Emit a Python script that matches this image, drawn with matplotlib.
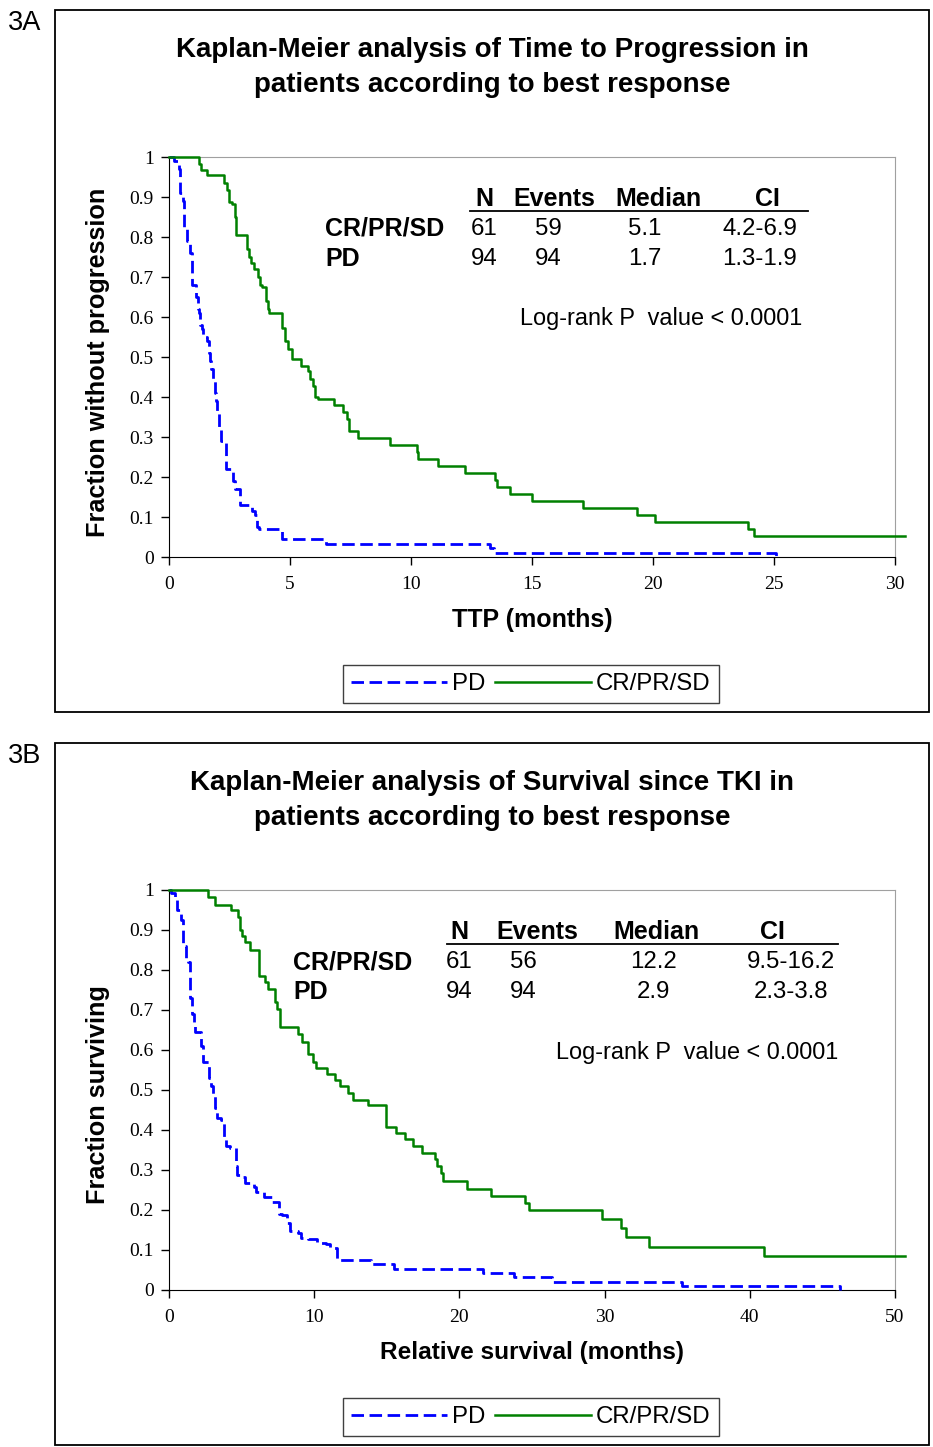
import matplotlib
matplotlib.use('Agg')
import matplotlib.pyplot as plt
from matplotlib.patches import Rectangle
from matplotlib.lines import Line2D
from matplotlib.ticker import FuncFormatter

W, H = 933, 1447

# ---- data ----
# 3A: time to progression
ttp_pd_t = [0, 0.2, 0.41, 0.45, 0.58, 0.62, 0.75, 0.85, 0.95, 1.1, 1.2, 1.25, 1.3, 1.35, 1.41,
            1.55, 1.65, 1.7, 1.75, 1.82, 1.9, 1.95, 1.99, 2.06, 2.13, 2.37, 2.65, 2.74, 2.95,
            3.43, 3.57, 3.63, 3.7, 4.66, 6.5, 13.27, 13.45, 25.1]
ttp_pd_s = [1.0, 0.99, 0.97, 0.91, 0.89, 0.82, 0.79, 0.76, 0.68, 0.65, 0.62, 0.61, 0.58, 0.57, 0.55,
            0.54, 0.51, 0.49, 0.47, 0.445, 0.41, 0.39, 0.36, 0.32, 0.29, 0.22, 0.19, 0.17, 0.13,
            0.115, 0.105, 0.075, 0.07, 0.046, 0.033, 0.022, 0.011, 0.0]
ttp_cr_t = [0, 1.26, 1.34, 1.58, 2.26, 2.4, 2.47, 2.6, 2.72, 2.77, 3.22, 3.32, 3.4, 3.5, 3.68,
            3.77, 3.85, 4.0, 4.08, 4.14, 4.69, 4.8, 4.9, 5.07, 5.46, 5.73, 5.83, 5.97, 6.04, 6.17,
            6.83, 7.19, 7.35, 7.42, 7.79, 9.14, 10.23, 10.3, 11.13, 12.25, 13.47, 13.54, 14.08,
            15.0, 17.1, 19.35, 20.1, 23.93, 24.16, 30.4]
ttp_cr_s = [1.0, 0.983, 0.967, 0.954, 0.934, 0.917, 0.888, 0.883, 0.85, 0.805, 0.77, 0.75, 0.735,
            0.72, 0.70, 0.68, 0.675, 0.64, 0.62, 0.61, 0.573, 0.54, 0.52, 0.494, 0.477, 0.465,
            0.444, 0.427, 0.40, 0.394, 0.379, 0.3625, 0.346, 0.314, 0.2975, 0.279, 0.2625, 0.246,
            0.228, 0.21, 0.192, 0.175, 0.157, 0.14, 0.1225, 0.105, 0.0875, 0.071, 0.0525, 0.0525]

# 3B: survival since TKI
os_pd_t = [0, 0.12, 0.42, 0.58, 0.86, 0.93, 1.16, 1.3, 1.44, 1.57, 1.71, 1.8, 2.2, 2.31, 2.73,
           2.9, 3.0, 3.17, 3.29, 3.6, 3.8, 3.94, 4.2, 4.58, 4.7, 5.05, 5.21, 5.86, 6.0, 6.53,
           7.1, 7.6, 7.8, 8.1, 8.3, 8.9, 9.1, 9.6, 10.2, 10.8, 11.1, 11.55, 13.9, 15.5, 21.6,
           23.75, 26.4, 35.3, 46.2]
os_pd_s = [1.0, 0.992, 0.975, 0.95, 0.925, 0.86, 0.83, 0.82, 0.73, 0.69, 0.66, 0.645, 0.61, 0.57,
           0.53, 0.51, 0.49, 0.455, 0.43, 0.425, 0.38, 0.36, 0.355, 0.31, 0.288, 0.283, 0.267,
           0.258, 0.244, 0.232, 0.22, 0.19, 0.188, 0.167, 0.148, 0.142, 0.13, 0.127, 0.118,
           0.115, 0.105, 0.076, 0.066, 0.053, 0.043, 0.032, 0.021, 0.011, 0.0]
os_cr_t = [0, 2.66, 3.19, 4.24, 4.75, 4.86, 5.05, 5.2, 5.55, 6.2, 6.6, 6.83, 7.3, 7.45, 7.64,
           8.9, 9.14, 9.6, 9.9, 10.14, 10.88, 11.4, 11.8, 12.3, 12.7, 13.7, 14.94, 15.6, 16.25,
           16.8, 17.45, 18.3, 18.45, 18.7, 18.85, 20.5, 22.2, 24.55, 24.8, 29.8, 31.14, 31.5,
           33.07, 40.95, 50.7]
os_cr_s = [1.0, 0.982, 0.963, 0.95, 0.933, 0.9, 0.886, 0.87, 0.85, 0.786, 0.77, 0.753, 0.72,
           0.703, 0.657, 0.64, 0.62, 0.59, 0.57, 0.554, 0.539, 0.525, 0.51, 0.493, 0.475, 0.462,
           0.408, 0.392, 0.378, 0.36, 0.343, 0.327, 0.31, 0.293, 0.273, 0.252, 0.235, 0.218, 0.2,
           0.178, 0.156, 0.133, 0.108, 0.086, 0.086]

table_cols = ['N', 'Events', 'Median', 'CI']
ttp_rows = {'CR/PR/SD': ['61', '59', '5.1', '4.2-6.9'], 'PD': ['94', '94', '1.7', '1.3-1.9']}
os_rows = {'CR/PR/SD': ['61', '56', '12.2', '9.5-16.2'], 'PD': ['94', '94', '2.9', '2.3-3.8']}
pvalue_text = 'Log-rank P  value < 0.0001'

BLUE = '#0000ff'
GREEN = '#008000'
FS = 17.3
PD_DASH = (4.5, 2.0)

plt.rcParams['font.family'] = ['Liberation Sans', 'DejaVu Sans']

fig = plt.figure(figsize=(W / 100, H / 100), dpi=100)


def fx(x):
    return x / W


def fy(y):
    return 1 - y / H


def text(x, y, s, **kw):
    kw.setdefault('fontsize', FS)
    kw.setdefault('va', 'center')
    fig.text(fx(x), fy(y), s, **kw)


def panel(top, tag, title, xmax, xstep, xlabel, ylabel, pd_t, pd_s, cr_t, cr_s,
          rows, col_x, val_x, row_x, line_x, p_x, xlabel_fs):
    # outer frame
    fig.patches.append(Rectangle((fx(55), fy(top + 702)), fx(874), 702 / H,
                                 transform=fig.transFigure, fill=False, ec='black', lw=1.3))
    text(8, top + 13, tag, fontsize=19.5)
    text(492, top + 40, title[0], ha='center', fontweight='bold', fontsize=20)
    text(492, top + 75, title[1], ha='center', fontweight='bold', fontsize=20)

    ax = fig.add_axes([fx(169), fy(top + 547), fx(895 - 169), 400 / H])
    ax.step(pd_t, pd_s, where='post', color=BLUE, lw=2.0, dashes=PD_DASH, clip_on=False,
            label='PD', zorder=3)
    ax.step(cr_t, cr_s, where='post', color=GREEN, lw=1.8, clip_on=False, label='CR/PR/SD',
            zorder=3)
    ax.set_xlim(0, xmax)
    ax.set_ylim(0, 1)
    ax.set_xticks(range(0, xmax + 1, xstep))
    ax.set_yticks([i / 10 for i in range(11)])
    ax.yaxis.set_major_formatter(FuncFormatter(lambda v, p: '%g' % round(v, 1)))
    for lab in ax.get_xticklabels() + ax.get_yticklabels():
        lab.set_fontfamily('Liberation Serif')
        lab.set_fontsize(14)
    ax.tick_params(axis='y', direction='out', length=6, width=1, pad=5)
    ax.tick_params(axis='x', direction='out', length=6, width=1, pad=8)
    for side in ['top', 'right']:
        ax.spines[side].set_color('#a0a0a0')
    for side in ['left', 'bottom']:
        ax.spines[side].set_color('black')

    text(532, top + 610, xlabel, ha='center', fontweight='bold', fontsize=xlabel_fs)
    fig.text(fx(98), fy(top + 352), ylabel,
             rotation=90, ha='center', va='center', fontweight='bold', fontsize=18.2)

    # summary table
    hy = top + 189
    for name, x in zip(table_cols, col_x):
        text(x, hy, name, ha='center', fontweight='bold', fontsize=18)
    fig.add_artist(Line2D([fx(line_x[0]), fx(line_x[1])], [fy(hy + 12), fy(hy + 12)],
                          color='black', lw=1.3))
    for i, (rname, vals) in enumerate(rows.items()):
        ry = hy + 30 + 30 * i
        text(row_x, ry, rname, fontweight='bold', fontsize=18)
        for v, x in zip(vals, val_x):
            text(x, ry, v, ha='center')
    text(p_x, hy + 120, pvalue_text, fontsize=16.9)

    handles = [Line2D([], [], color=BLUE, lw=2.0, dashes=PD_DASH),
               Line2D([], [], color=GREEN, lw=1.8)]
    leg = fig.legend(handles, ['PD', 'CR/PR/SD'], loc='center',
                     bbox_to_anchor=(fx(531), fy(top + 674)), ncol=2, fontsize=FS,
                     handlelength=4.0, handletextpad=0.2, columnspacing=0.4,
                     fancybox=False, framealpha=1, edgecolor='#404040', borderpad=0.35,
                     borderaxespad=0)
    leg.get_frame().set_linewidth(1.0)
    return ax


panel(10, '3A', ['Kaplan-Meier analysis of Time to Progression in',
                 'patients according to best response'],
      30, 5, 'TTP (months)', 'Fraction without progression',
      ttp_pd_t, ttp_pd_s, ttp_cr_t, ttp_cr_s, ttp_rows,
      col_x=[484, 554, 658, 767], val_x=[484, 548, 645, 760], row_x=325,
      line_x=[470, 808], p_x=520, xlabel_fs=18)

panel(743, '3B', ['Kaplan-Meier analysis of Survival since TKI in',
                  'patients according to best response'],
      50, 10, 'Relative survival (months)', 'Fraction surviving',
      os_pd_t, os_pd_s, os_cr_t, os_cr_s, os_rows,
      col_x=[459, 537, 656, 772], val_x=[459, 523, 653, 791], row_x=293,
      line_x=[447, 838], p_x=556, xlabel_fs=17.6)

fig.savefig('out.png', dpi=100)
